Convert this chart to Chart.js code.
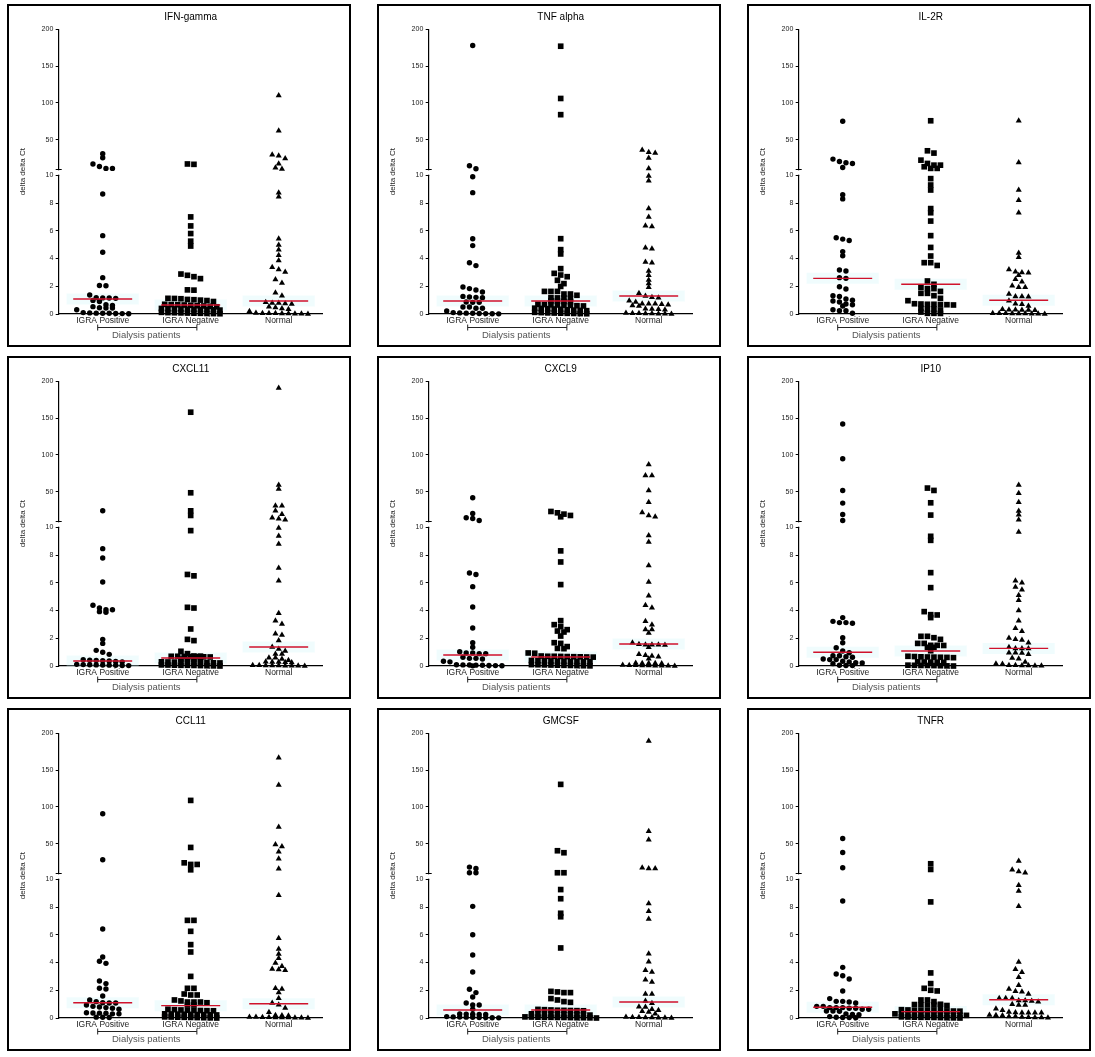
<!DOCTYPE html>
<html><head><meta charset="utf-8">
<script src="https://cdn.jsdelivr.net/npm/chart.js@4.4.1/dist/chart.umd.min.js"></script>
<style>
html,body{margin:0;padding:0;background:#fff;}
#wrap{position:relative;width:1095px;height:1057px;overflow:hidden;background:#fff;}
.panel{position:absolute;box-sizing:border-box;width:344px;height:343px;border:2px solid #000;background:#fff;}
.panel canvas{position:absolute;left:0;top:0;}
</style></head><body><div id="wrap"></div>
<script>
// ---------- data ----------
const categories = ['IGRA Positive', 'IGRA Negative', 'Normal'];
const panelTitles = ['IFN-gamma', 'TNF alpha', 'IL-2R', 'CXCL11', 'CXCL9', 'IP10', 'CCL11', 'GMCSF', 'TNFR'];
const lowerTicks = [0, 2, 4, 6, 8, 10];
const upperTicks = [50, 100, 150, 200];
const breakValue = 10;
const yAxisTitle = 'delta delta Ct';
const groupLabel = 'Dialysis patients';

const ifnGammaPos = [31, 25.5, 17, 13.5, 11, 11, 8.65, 5.65, 4.45, 2.62, 2.05, 2.04, 1.37, 1.18, 1.16, 1.15, 1.13, 0.98, 0.9, 0.67, 0.62, 0.53, 0.45, 0.43, 0.43, 0.31, 0.1, 0.08, 0.06, 0.05, 0.05, 0.04, 0.03, 0.02];
const ifnGammaNeg = [17, 16.5, 7.0, 6.35, 5.8, 5.25, 4.9, 2.88, 2.79, 2.69, 2.55, 1.74, 1.72, 1.13, 1.12, 1.1, 1.05, 1.03, 1.0, 0.97, 0.9, 0.7, 0.68, 0.67, 0.65, 0.63, 0.6, 0.58, 0.55, 0.52, 0.4, 0.38, 0.37, 0.36, 0.35, 0.34, 0.33, 0.32, 0.3, 0.28, 0.12, 0.1, 0.09, 0.08, 0.07, 0.06, 0.05, 0.04, 0.03, 0.02];
const ifnGammaNormal = [110, 62, 29.5, 28, 24.5, 17.3, 11.8, 10.2, 8.75, 8.46, 5.43, 4.97, 4.64, 4.23, 3.85, 3.37, 3.2, 3.03, 2.48, 2.24, 1.54, 1.32, 0.84, 0.8, 0.8, 0.75, 0.72, 0.53, 0.46, 0.4, 0.34, 0.2, 0.08, 0.06, 0.05, 0.05, 0.04, 0.03, 0.02, 0.01, 0.0];
const ifnGammaMedians = [1.08, 0.65, 0.94];

const tnfAlphaPos = [178, 14.5, 10.5, 9.9, 8.75, 5.43, 4.93, 3.7, 3.49, 1.95, 1.83, 1.73, 1.59, 1.27, 1.23, 1.2, 1.18, 0.86, 0.84, 0.84, 0.5, 0.5, 0.41, 0.41, 0.22, 0.1, 0.08, 0.06, 0.05, 0.04, 0.03, 0.02, 0.01];
const tnfAlphaNeg = [177, 106, 84, 5.43, 4.64, 4.33, 3.27, 2.93, 2.81, 2.69, 2.43, 2.19, 1.99, 1.63, 1.63, 1.63, 1.44, 1.44, 1.35, 1.18, 1.16, 1.15, 1.13, 0.95, 0.93, 0.9, 0.88, 0.7, 0.68, 0.66, 0.65, 0.64, 0.62, 0.6, 0.58, 0.42, 0.4, 0.38, 0.36, 0.34, 0.3, 0.28, 0.26, 0.24, 0.12, 0.1, 0.08, 0.07, 0.06, 0.05, 0.04, 0.03, 0.02];
const tnfAlphaNormal = [36, 33, 32, 25, 11, 9.95, 9.6, 7.6, 7.0, 6.37, 6.3, 4.78, 4.71, 3.75, 3.7, 3.1, 2.8, 2.45, 2.2, 1.92, 1.5, 1.3, 1.2, 1.18, 0.96, 0.87, 0.74, 0.74, 0.74, 0.7, 0.67, 0.62, 0.58, 0.38, 0.36, 0.34, 0.3, 0.08, 0.06, 0.05, 0.04, 0.03, 0.02, 0.01, 0.0];
const tnfAlphaMedians = [0.94, 0.94, 1.3];

const il2rPos = [75, 23.6, 20.4, 18.6, 17.7, 12.3, 8.6, 8.3, 5.5, 5.4, 5.3, 4.5, 4.2, 3.17, 3.1, 2.62, 2.57, 1.97, 1.8, 1.32, 1.27, 1.08, 0.99, 0.94, 0.87, 0.72, 0.67, 0.58, 0.31, 0.24, 0.24, 0.05];
const il2rNeg = [75.7, 34.9, 31.8, 22.2, 17.7, 15.4, 15.4, 13.2, 11, 11, 9.76, 9.3, 8.94, 7.6, 7.3, 6.7, 5.65, 4.8, 4.18, 3.7, 3.7, 3.5, 2.38, 2.14, 1.92, 1.83, 1.83, 1.63, 1.49, 1.49, 1.32, 1.13, 0.96, 0.74, 0.72, 0.7, 0.7, 0.68, 0.67, 0.65, 0.41, 0.36, 0.36, 0.29, 0.14, 0.05, 0.05, 0.04];
const il2rNormal = [75.7, 19, 8.94, 8.2, 7.3, 4.4, 4.1, 3.2, 3.05, 3.0, 2.98, 2.8, 2.5, 2.33, 2.04, 1.92, 1.92, 1.44, 1.27, 1.27, 1.25, 0.96, 0.74, 0.7, 0.58, 0.34, 0.31, 0.3, 0.29, 0.29, 0.27, 0.06, 0.05, 0.05, 0.04, 0.04, 0.03, 0.02, 0.01, 0.0];
const il2rMedians = [2.57, 2.14, 0.99];

const cxcl11Pos = [24, 8.46, 7.79, 6.06, 4.38, 4.18, 4.06, 4.06, 3.92, 3.87, 1.92, 1.63, 1.13, 0.99, 0.84, 0.45, 0.42, 0.4, 0.38, 0.36, 0.33, 0.3, 0.12, 0.1, 0.09, 0.08, 0.07, 0.06, 0.05, 0.04, 0.03];
const cxcl11Neg = [158, 48.5, 24, 17.7, 9.76, 6.6, 6.5, 4.23, 4.18, 2.67, 1.92, 1.83, 1.06, 0.89, 0.72, 0.71, 0.7, 0.7, 0.69, 0.68, 0.67, 0.66, 0.65, 0.5, 0.48, 0.46, 0.44, 0.3, 0.29, 0.28, 0.28, 0.27, 0.26, 0.25, 0.24, 0.23, 0.22, 0.08, 0.07, 0.06, 0.05, 0.05, 0.04, 0.03, 0.02, 0.01, 0.0];
const cxcl11Normal = [191, 59, 53.5, 30.9, 30.9, 24, 19.5, 14.5, 13.2, 11.8, 9.95, 9.38, 8.8, 7.07, 6.15, 3.8, 3.27, 3.03, 2.33, 2.24, 1.83, 1.37, 1.23, 1.08, 0.87, 0.87, 0.6, 0.6, 0.5, 0.41, 0.3, 0.29, 0.28, 0.27, 0.26, 0.06, 0.05, 0.04, 0.04, 0.03, 0.02, 0.02, 0.01, 0.0];
const cxcl11Medians = [0.36, 0.58, 1.37];

const cxcl9Pos = [41.7, 20.4, 14.5, 13.6, 10.9, 6.7, 6.6, 5.72, 4.25, 2.74, 1.68, 1.35, 1.03, 0.94, 0.94, 0.89, 0.89, 0.63, 0.55, 0.55, 0.5, 0.34, 0.3, 0.09, 0.08, 0.07, 0.06, 0.05, 0.04, 0.03, 0.02, 0.01];
const cxcl9Neg = [23.1, 21.3, 19.5, 17.7, 15.9, 8.3, 7.5, 5.87, 3.27, 2.98, 2.84, 2.62, 2.52, 2.45, 2.16, 1.68, 1.63, 1.4, 1.27, 1.25, 0.94, 0.92, 0.72, 0.7, 0.7, 0.69, 0.68, 0.67, 0.66, 0.65, 0.64, 0.4, 0.38, 0.37, 0.36, 0.35, 0.34, 0.33, 0.32, 0.31, 0.3, 0.1, 0.09, 0.08, 0.07, 0.06, 0.05, 0.04, 0.03, 0.02, 0.01];
const cxcl9Normal = [87, 72, 72, 51.7, 35.8, 21.8, 17.7, 15.9, 9.4, 8.94, 7.24, 6.06, 5.07, 4.38, 4.2, 3.22, 2.98, 2.64, 2.64, 2.38, 1.68, 1.56, 1.54, 1.54, 1.53, 1.52, 1.35, 0.84, 0.77, 0.72, 0.67, 0.53, 0.22, 0.2, 0.2, 0.19, 0.18, 0.07, 0.06, 0.05, 0.04, 0.03, 0.02, 0.02, 0.01, 0.0];
const cxcl9Medians = [0.79, 0.65, 1.59];

const ip10Pos = [142, 94.8, 51.7, 34.5, 19, 10.9, 3.49, 3.22, 3.13, 3.13, 3.08, 2.04, 1.68, 1.32, 1.08, 0.96, 0.74, 0.74, 0.67, 0.63, 0.5, 0.46, 0.46, 0.34, 0.29, 0.24, 0.22, 0.17, 0.05, 0.04, 0.03];
const ip10Neg = [54.9, 51.7, 34.9, 18.2, 9.35, 9.06, 6.73, 5.65, 3.92, 3.7, 3.68, 3.49, 2.14, 2.14, 2.04, 1.92, 1.63, 1.63, 1.49, 1.49, 1.48, 1.35, 1.35, 1.1, 0.7, 0.68, 0.66, 0.65, 0.64, 0.63, 0.62, 0.6, 0.3, 0.29, 0.28, 0.27, 0.26, 0.06, 0.05, 0.04, 0.04, 0.03, 0.02, 0.01, 0.0];
const ip10Normal = [59, 48, 35.8, 23.6, 18.6, 11.8, 9.66, 6.15, 6.0, 5.7, 5.5, 5.1, 4.74, 4.0, 3.27, 2.72, 2.5, 2.02, 1.92, 1.88, 1.68, 1.35, 1.27, 1.27, 1.27, 0.96, 0.95, 0.94, 0.84, 0.58, 0.53, 0.29, 0.17, 0.15, 0.06, 0.05, 0.04, 0.03, 0.02, 0.01];
const ip10Medians = [0.99, 1.08, 1.27];

const ccl11Pos = [90.7, 28.1, 6.42, 4.4, 4.09, 3.94, 2.67, 2.48, 2.14, 2.09, 1.59, 1.3, 1.18, 1.1, 1.08, 1.08, 0.94, 0.84, 0.79, 0.75, 0.7, 0.63, 0.38, 0.36, 0.35, 0.34, 0.3, 0.3, 0.06, 0.05, 0.04];
const ccl11Neg = [108.8, 44.9, 24, 21.8, 21.8, 14.5, 7.04, 7.04, 6.25, 5.29, 4.76, 3.0, 2.14, 2.14, 1.73, 1.66, 1.66, 1.3, 1.23, 1.15, 1.15, 1.15, 1.1, 0.94, 0.94, 0.63, 0.6, 0.58, 0.56, 0.55, 0.54, 0.53, 0.52, 0.3, 0.29, 0.28, 0.27, 0.26, 0.25, 0.24, 0.23, 0.22, 0.08, 0.07, 0.06, 0.05, 0.04, 0.03, 0.02, 0.01, 0.0];
const ccl11Normal = [166.8, 129.7, 72.6, 49, 46.3, 39, 29.5, 15.9, 8.85, 5.75, 4.98, 4.62, 4.3, 3.97, 3.73, 3.53, 3.49, 3.44, 2.14, 2.09, 1.83, 1.42, 1.08, 0.96, 0.72, 0.41, 0.2, 0.18, 0.17, 0.08, 0.07, 0.06, 0.05, 0.04, 0.04, 0.03, 0.02, 0.01, 0.0];
const ccl11Medians = [1.1, 0.89, 1.03];

const gmcsfPos = [18.2, 16.3, 10.5, 10.5, 8.05, 6.0, 4.54, 3.32, 2.07, 1.83, 1.51, 1.08, 0.94, 0.94, 0.63, 0.3, 0.28, 0.27, 0.26, 0.25, 0.1, 0.08, 0.07, 0.06, 0.05, 0.04, 0.03, 0.02, 0.01];
const gmcsfNeg = [130.6, 40.4, 37.7, 10.5, 10.5, 9.26, 8.6, 7.55, 7.3, 5.05, 1.92, 1.88, 1.83, 1.83, 1.4, 1.3, 1.18, 1.13, 0.62, 0.6, 0.58, 0.56, 0.55, 0.54, 0.53, 0.52, 0.3, 0.29, 0.28, 0.27, 0.26, 0.25, 0.24, 0.23, 0.22, 0.21, 0.08, 0.07, 0.06, 0.05, 0.05, 0.04, 0.04, 0.03, 0.02, 0.02, 0.01, 0.0];
const gmcsfNormal = [189.5, 67, 55.3, 17.3, 16.3, 16.3, 8.25, 7.7, 7.14, 4.64, 4.06, 3.44, 3.32, 2.76, 2.6, 1.73, 1.73, 1.23, 1.06, 0.82, 0.79, 0.63, 0.55, 0.48, 0.43, 0.31, 0.07, 0.06, 0.05, 0.04, 0.03, 0.02, 0.01, 0.0];
const gmcsfMedians = [0.58, 0.58, 1.15];

const tnfrPos = [57.1, 38.1, 17.3, 8.44, 3.65, 3.17, 3.05, 2.81, 1.95, 1.4, 1.2, 1.2, 1.15, 1.08, 0.84, 0.84, 0.75, 0.75, 0.7, 0.7, 0.75, 0.63, 0.63, 0.5, 0.5, 0.48, 0.3, 0.26, 0.24, 0.1, 0.05, 0.04, 0.03, 0.02];
const tnfrNeg = [22.7, 15, 8.37, 3.25, 2.48, 2.14, 2.0, 1.95, 1.3, 1.3, 1.18, 0.99, 0.97, 0.95, 0.94, 0.93, 0.92, 0.9, 0.6, 0.58, 0.56, 0.55, 0.54, 0.53, 0.52, 0.51, 0.5, 0.49, 0.3, 0.29, 0.28, 0.27, 0.26, 0.25, 0.24, 0.23, 0.22, 0.21, 0.2, 0.19, 0.08, 0.07, 0.06, 0.05, 0.04, 0.03, 0.02, 0.01, 0.0, 0.05];
const tnfrNormal = [26.3, 14.5, 12.3, 10.5, 9.57, 9.16, 8.05, 4.04, 3.51, 3.3, 2.93, 2.36, 2.09, 1.92, 1.9, 1.73, 1.42, 1.42, 1.42, 1.27, 1.27, 1.23, 1.18, 0.99, 0.94, 0.94, 0.67, 0.55, 0.43, 0.4, 0.38, 0.38, 0.38, 0.38, 0.22, 0.2, 0.18, 0.1, 0.1, 0.08, 0.05, 0.04, 0.03, 0.02];
const tnfrMedians = [0.77, 0.46, 1.32];

const panels = [
  { title: panelTitles[0], groups: [ifnGammaPos, ifnGammaNeg, ifnGammaNormal], medians: ifnGammaMedians },
  { title: panelTitles[1], groups: [tnfAlphaPos, tnfAlphaNeg, tnfAlphaNormal], medians: tnfAlphaMedians },
  { title: panelTitles[2], groups: [il2rPos, il2rNeg, il2rNormal], medians: il2rMedians },
  { title: panelTitles[3], groups: [cxcl11Pos, cxcl11Neg, cxcl11Normal], medians: cxcl11Medians },
  { title: panelTitles[4], groups: [cxcl9Pos, cxcl9Neg, cxcl9Normal], medians: cxcl9Medians },
  { title: panelTitles[5], groups: [ip10Pos, ip10Neg, ip10Normal], medians: ip10Medians },
  { title: panelTitles[6], groups: [ccl11Pos, ccl11Neg, ccl11Normal], medians: ccl11Medians },
  { title: panelTitles[7], groups: [gmcsfPos, gmcsfNeg, gmcsfNormal], medians: gmcsfMedians },
  { title: panelTitles[8], groups: [tnfrPos, tnfrNeg, tnfrNormal], medians: tnfrMedians }
];

// ---------- layout / style ----------
const colLefts = [7, 377, 747];
const rowTops = [4, 356, 708];
const FONT = '"Liberation Sans", Arial, Helvetica, sans-serif';
const markerStyles = ['circle', 'rect', 'triangle'];
const markerRadii = [2.7, 4.0, 3.5];
const PX_PER_X = 88;        // approx pixel width of one category
const LOW_PX = 13.87;       // approx px per unit below the break
const HIGH_PX = 0.736;      // approx px per unit above the break
function approxPx(v) { return v <= breakValue ? v * LOW_PX : breakValue * LOW_PX + 6.3 + (v - breakValue) * HIGH_PX; }

// row-based dot spreading (deterministic, from the values only)
function spread(values, sp) {
  const pts = values.map(v => ({ v, py: approxPx(v), x: 0 })).sort((a, b) => b.py - a.py);
  const rows = [];
  let row = [];
  for (const p of pts) {
    if (row.length) {
      const span = row[0].py - p.py, gap = row[row.length - 1].py - p.py;
      const join = (gap <= 1.3 && span <= 4.5) || (row.length < 4 && span <= 5.5 && gap <= 3.4);
      if (!join) { rows.push(row); row = []; }
    }
    row.push(p);
  }
  if (row.length) rows.push(row);
  rows.forEach(r => r.forEach((p, k) => { p.x = (k - (r.length - 1) / 2) * sp; }));
  return pts;
}

const extras = {
  id: 'extras',
  afterDraw(chart) {
    const { ctx, chartArea: ca, scales } = chart;
    const yl = scales.y, yu = scales.y2, xs = scales.x;
    const ax = yl.right;
    const yb = yu.getPixelForValue(breakValue);
    ctx.save();
    // axis break
    ctx.fillStyle = '#fff';
    ctx.fillRect(ax - 2, yb + 1.2, 4, yl.top - yb - 1.8);
    ctx.strokeStyle = '#000'; ctx.lineWidth = 1;
    ctx.beginPath(); ctx.moveTo(ax - 3, Math.round(yb) + 0.5); ctx.lineTo(ax + 3, Math.round(yb) + 0.5); ctx.stroke();
    // bracket + group label
    const x1 = xs.getPixelForValue(-0.057), x2 = xs.getPixelForValue(1.07);
    const yBr = ca.bottom + 13.5;
    ctx.strokeStyle = '#222'; ctx.lineWidth = 1;
    ctx.beginPath();
    ctx.moveTo(x1, yBr); ctx.lineTo(x2, yBr);
    ctx.moveTo(x1, yBr - 3); ctx.lineTo(x1, yBr + 3);
    ctx.moveTo(x2, yBr - 3); ctx.lineTo(x2, yBr + 3);
    ctx.stroke();
    ctx.fillStyle = '#555';
    ctx.font = '9.5px ' + FONT;
    ctx.textAlign = 'center'; ctx.textBaseline = 'middle';
    ctx.fillText(groupLabel, xs.getPixelForValue(0.495), ca.bottom + 21);
    // y title
    ctx.fillStyle = '#222';
    ctx.font = '8px ' + FONT;
    ctx.translate(14, (ca.top + ca.bottom) / 2);
    ctx.rotate(-Math.PI / 2);
    ctx.fillText(yAxisTitle, 0, 0);
    ctx.restore();
  }
};

function yScale(weight, min, max, ticks) {
  return {
    type: 'linear', position: 'left', stack: 'v', stackWeight: weight, min, max,
    afterBuildTicks: s => { s.ticks = ticks.map(v => ({ value: v })); },
    ticks: { font: { size: 7, family: FONT }, color: '#222', padding: 2.4 },
    grid: { drawOnChartArea: false, drawTicks: true, tickLength: 3, color: '#000', lineWidth: 1 },
    border: { display: true, color: '#000', width: 1.2 },
    afterFit: s => { s.width = 49.7; }
  };
}

const wrap = document.getElementById('wrap');
panels.forEach((p, idx) => {
  const div = document.createElement('div');
  div.className = 'panel';
  div.style.left = colLefts[idx % 3] + 'px';
  div.style.top = rowTops[Math.floor(idx / 3)] + 'px';
  const cv = document.createElement('canvas');
  cv.width = 340; cv.height = 339;
  cv.style.width = '340px'; cv.style.height = '339px';
  div.appendChild(cv);
  wrap.appendChild(div);

  const datasets = [];
  // median lines (drawn on top)
  p.medians.forEach((m, g) => {
    datasets.push({
      type: 'scatter', showLine: true, yAxisID: 'y',
      data: [{ x: g - 0.335, y: m }, { x: g + 0.335, y: m }],
      borderColor: '#d0122c', borderWidth: 1.4, pointRadius: 0, clip: false, order: 0
    });
  });
  // points
  p.groups.forEach((vals, g) => {
    const pts = spread(vals, 6.5);
    const low = pts.filter(q => q.v <= breakValue).map(q => ({ x: g + q.x / PX_PER_X, y: q.v }));
    const high = pts.filter(q => q.v > breakValue).map(q => ({ x: g + q.x / PX_PER_X, y: q.v }));
    const style = { pointStyle: markerStyles[g], pointRadius: markerRadii[g], backgroundColor: '#000', borderColor: '#000', borderWidth: 0, clip: false, order: 1 };
    datasets.push(Object.assign({ type: 'scatter', yAxisID: 'y', data: low }, style));
    datasets.push(Object.assign({ type: 'scatter', yAxisID: 'y2', data: high }, style));
  });
  // faint halo behind medians
  p.medians.forEach((m, g) => {
    datasets.push({
      type: 'scatter', showLine: true, yAxisID: 'y',
      data: [{ x: g - 0.41, y: m }, { x: g + 0.41, y: m }],
      borderColor: 'rgba(205,246,250,0.3)', borderWidth: 11, pointRadius: 0, clip: false, order: 2
    });
  });

  new Chart(cv, {
    type: 'scatter',
    data: { datasets },
    plugins: [extras],
    options: {
      responsive: false, animation: false, events: [],
      layout: { padding: { left: 0, right: 26.3, top: 0, bottom: 0 } },
      plugins: {
        legend: { display: false }, tooltip: { enabled: false },
        title: { display: true, text: p.title, fullSize: false, color: '#000', font: { size: 10, family: FONT, weight: 'normal' }, padding: { top: 5.2, bottom: 6.1 } }
      },
      scales: {
        x: {
          type: 'linear', min: -0.5, max: 2.5,
          afterBuildTicks: s => { s.ticks = categories.map((c, i) => ({ value: i })); },
          ticks: { callback: v => categories[v], font: { size: 8.5, family: FONT }, color: '#222', padding: 1.6, autoSkip: false, maxRotation: 0 },
          grid: { display: false, drawTicks: false },
          border: { display: true, color: '#000', width: 1.2 },
          afterFit: s => { s.height = 31; }
        },
        y: yScale(138.7, 0, 10, lowerTicks),
        y2: yScale(146, 1.6, 200, upperTicks)
      }
    }
  });
});
</script></body></html>
